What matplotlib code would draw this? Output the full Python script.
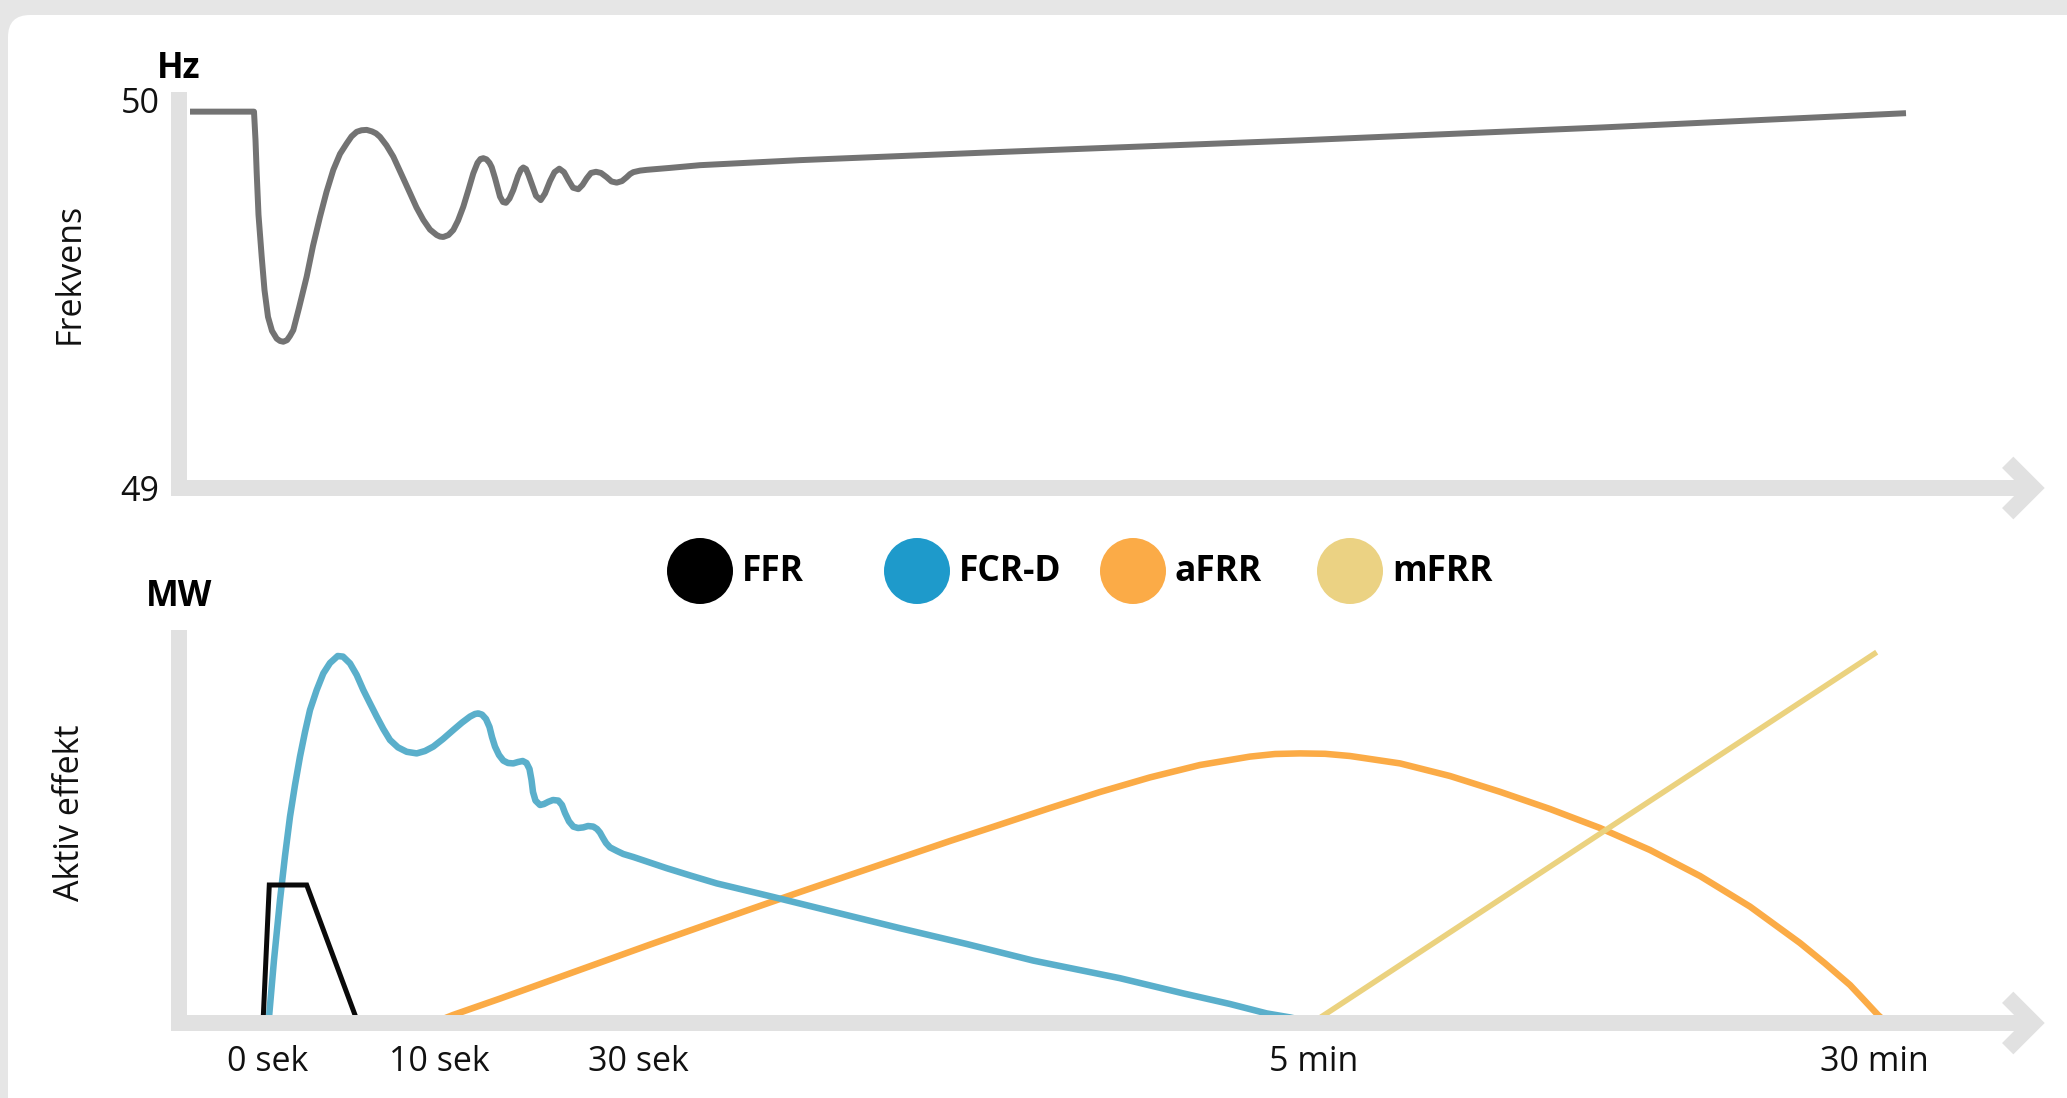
import matplotlib
matplotlib.use("Agg")
import matplotlib.pyplot as plt
from matplotlib.patches import FancyBboxPatch, Circle
from matplotlib.transforms import IdentityTransform

plt.rcParams['font.family'] = ['Open Sans', 'DejaVu Sans']

# x is a schematic time position (not linear in time)
tick_pos = [8.9, 26.0, 45.9, 113.5, 169.5]
tick_labels = ['0 sek', '10 sek', '30 sek', '5 min', '30 min']

# frequency (Hz), (x, Hz) pairs
hz_pts = [(1.1, 49.970), (7.5, 49.970), (7.65, 49.897), (7.77, 49.812), (7.95, 49.704),
          (8.27, 49.596), (8.55, 49.510), (8.9, 49.441), (9.3, 49.405), (9.77, 49.385),
          (10.1, 49.379), (10.43, 49.377), (10.8, 49.381), (11.1, 49.392), (11.43, 49.407),
          (12.0, 49.464), (12.77, 49.545), (13.4, 49.624), (14.1, 49.699), (14.75, 49.763),
          (15.43, 49.820), (16.1, 49.861), (16.77, 49.888), (17.25, 49.906), (17.77, 49.918),
          (18.25, 49.922), (18.77, 49.923), (19.3, 49.919), (19.7, 49.914), (20.1, 49.905),
          (20.75, 49.883), (21.43, 49.854), (22.25, 49.808), (23.1, 49.760), (23.75, 49.723),
          (24.43, 49.691), (25.1, 49.666), (25.77, 49.652), (26.1, 49.648), (26.43, 49.647),
          (26.95, 49.652), (27.43, 49.665), (27.9, 49.689), (28.43, 49.725), (28.95, 49.769),
          (29.43, 49.811), (29.85, 49.838), (30.15, 49.848), (30.43, 49.850), (30.75, 49.847),
          (31.05, 49.838), (31.27, 49.827), (31.6, 49.799), (32.1, 49.751), (32.4, 49.737),
          (32.7, 49.735), (33.05, 49.746), (33.43, 49.768), (33.9, 49.804), (34.2, 49.821),
          (34.43, 49.826), (34.7, 49.822), (34.95, 49.807), (35.27, 49.784), (35.7, 49.753),
          (36.17, 49.742), (36.6, 49.759), (37.1, 49.791), (37.55, 49.814), (38.03, 49.823),
          (38.5, 49.814), (38.93, 49.794), (39.4, 49.774), (39.93, 49.770), (40.35, 49.781),
          (40.77, 49.798), (41.2, 49.812), (41.7, 49.815), (42.2, 49.812), (42.77, 49.801),
          (43.25, 49.790), (43.77, 49.787), (44.3, 49.791), (44.77, 49.801), (45.1, 49.809),
          (45.43, 49.814), (46.1, 49.818), (46.77, 49.820), (49.1, 49.825), (52.1, 49.832),
          (62.1, 49.845), (82.1, 49.866), (112.1, 49.896), (142.1, 49.929), (172.7, 49.966)]

# active power (relative units)
ffr_pts = [(8.4, 0), (9.03, 34.5), (12.77, 34.5), (17.9, 0)]

fcr_pts = [(8.95, 0), (9.5, 15.75), (10.1, 30.75), (10.6, 41.75), (11.1, 51.6), (11.6, 59.5),
           (12.1, 66.6), (12.6, 72.75), (13.1, 78.25), (13.77, 83.25), (14.43, 87.4),
           (15.1, 90.0), (15.87, 91.75), (16.4, 91.6), (17.1, 89.9), (17.77, 87.0),
           (18.43, 83.25), (19.1, 79.9), (19.77, 76.6), (20.43, 73.5), (21.1, 70.75),
           (21.9, 68.9), (22.77, 67.8), (23.77, 67.4), (24.6, 68.0), (25.43, 69.1),
           (26.4, 71.0), (27.43, 73.25), (28.3, 75.1), (29.1, 76.6), (29.6, 77.25),
           (29.93, 77.4), (30.3, 77.1), (30.7, 76.0), (31.05, 74.0), (31.3, 71.5),
           (31.6, 69.1), (32.0, 67.0), (32.43, 65.6), (32.9, 65.0), (33.43, 64.9),
           (33.9, 65.25), (34.37, 65.5), (34.75, 65.0), (35.05, 63.5), (35.25, 60.75),
           (35.4, 57.75), (35.65, 55.6), (36.1, 54.5), (36.5, 54.75), (36.93, 55.3),
           (37.4, 55.75), (37.93, 55.6), (38.3, 54.5), (38.6, 52.5), (39.0, 50.4),
           (39.43, 49.1), (39.9, 48.75), (40.43, 48.9), (40.9, 49.25), (41.43, 49.1),
           (41.8, 48.5), (42.1, 47.6), (42.4, 46.25), (42.7, 45.0), (43.1, 43.9),
           (43.8, 43.0), (44.43, 42.25), (45.43, 41.5), (47.1, 40.1), (48.77, 38.7),
           (51.1, 36.9), (53.77, 34.9), (59.27, 31.6), (65.43, 27.8), (72.1, 23.7),
           (78.77, 19.75), (85.43, 15.6), (94.1, 11.2), (97.1, 9.4), (100.43, 7.4),
           (105.1, 4.75), (108.77, 2.4), (111.1, 1.4), (113.6, 0)]

afrr_pts = [(25.4, 0), (27.4, 2.0), (32.1, 6.1), (37.1, 10.6), (42.1, 15.1), (47.1, 19.6),
            (52.1, 24.0), (57.1, 28.4), (62.1, 32.75), (67.1, 37.0), (72.1, 41.25),
            (77.1, 45.5), (82.1, 49.6), (87.1, 53.75), (92.1, 57.75), (97.1, 61.4),
            (102.1, 64.5), (107.1, 66.6), (109.6, 67.25), (112.1, 67.4), (114.6, 67.3),
            (117.1, 66.75), (122.1, 64.9), (127.1, 61.75), (132.1, 57.8), (137.1, 53.5),
            (142.1, 48.75), (147.1, 43.25), (152.1, 36.75), (157.1, 29.1), (162.1, 20.0),
            (164.6, 14.9), (167.1, 9.5), (168.6, 5.5), (169.9, 2.0), (170.8, 0)]

mfrr_pts = [(113.3, 0), (144.1, 50.6), (169.77, 92.7)]

legend_names = ['FFR', 'FCR-D', 'aFRR', 'mFRR']
legend_colors = ['#000000', '#1e9acb', '#fbab47', '#ebd283']

W, H = 2067, 1098
BAR = '#e1e1e1'
TXT = '#111111'
FS = 24.5

fig = plt.figure(figsize=(W / 100, H / 100), dpi=100)
fig.patch.set_facecolor('#e6e6e6')
panel = FancyBboxPatch((8, -60), W + 60, H - 15 + 60,
                       boxstyle='round,pad=0,rounding_size=22',
                       transform=IdentityTransform(), facecolor='white',
                       edgecolor='none', zorder=-10)
fig.add_artist(panel)


def px_axes(left, top, right, bottom):
    return fig.add_axes([left / W, 1 - bottom / H, (right - left) / W, (bottom - top) / H])


x0, x1 = 179, 2044
ax1 = px_axes(x0, 92, x1, 488)
ax2 = px_axes(x0, 630, x1, 1023)

for ax in (ax1, ax2):
    ax.set_facecolor('none')
    for s in ax.spines.values():
        s.set_visible(False)
    ax.set_xlim(0, (x1 - x0) / 10)
    ax.tick_params(length=0, labelsize=FS, colors=TXT)

ax1.set_ylim(49, 50 + 8 / 388)
ax1.set_yticks([49, 50], ['49', '50'])
ax1.set_xticks([])
ax1.tick_params(axis='y', pad=14)
hz_x, hz_y = zip(*hz_pts)
ax1.plot(hz_x, hz_y, color='#737373', lw=4.3, solid_joinstyle='round',
         solid_capstyle='butt')
ax1.set_ylabel('Frekvens', fontsize=FS, color=TXT)
ax1.yaxis.set_label_coords(-0.0493, 0.543)

ax2.set_ylim(0, (1023 - 630) / 4)
ax2.set_yticks([])
ax2.set_xticks(tick_pos, tick_labels)
ax2.tick_params(axis='x', pad=16)
for pts, col, lw in ((afrr_pts, '#fbab46', 4.7), (mfrr_pts, '#ebd27f', 4.0),
                     (fcr_pts, '#5aafcb', 4.7)):
    xs, ys = zip(*pts)
    ax2.plot(xs, ys, color=col, lw=lw, solid_joinstyle='round', solid_capstyle='butt')
xs, ys = zip(*ffr_pts)
ax2.plot(xs, ys, color='#0a0a0a', lw=3.6, solid_joinstyle='miter', solid_capstyle='butt')
ax2.set_ylabel('Aktiv effekt', fontsize=FS, color=TXT)
ax2.yaxis.set_label_coords(-0.0493, 0.534)

# overlay in pixel units: axis bars, arrows, unit labels, legend
deco = fig.add_axes([0, 0, 1, 1], zorder=5)
deco.set_xlim(0, W)
deco.set_ylim(H, 0)
deco.axis('off')
deco.patch.set_alpha(0)

for top, base in ((92, 488), (630, 1023)):
    deco.plot([x0, x0, 2030], [top, base, base], color=BAR, lw=11.5,
              solid_joinstyle='miter', solid_capstyle='butt')
    deco.plot([2007.7, 2033.4, 2007.7], [base - 25.7, base, base + 25.7], color=BAR,
              lw=11.5, solid_joinstyle='miter', solid_capstyle='butt')

deco.text(x0, 69, 'Hz', fontsize=25, fontweight='bold', ha='center', va='center',
          color='black')
deco.text(x0, 597, 'MW', fontsize=25, fontweight='bold', ha='center', va='center',
          color='black')

leg_x = [700, 917, 1133, 1350]
for cx, name, col in zip(leg_x, legend_names, legend_colors):
    deco.add_patch(Circle((cx, 571), 33, facecolor=col, edgecolor='none'))
    deco.text(cx + 42, 572, name, fontsize=25.5, fontweight='bold', ha='left',
              va='center', color='black')

fig.savefig('out.png', dpi=100, facecolor=fig.get_facecolor())
